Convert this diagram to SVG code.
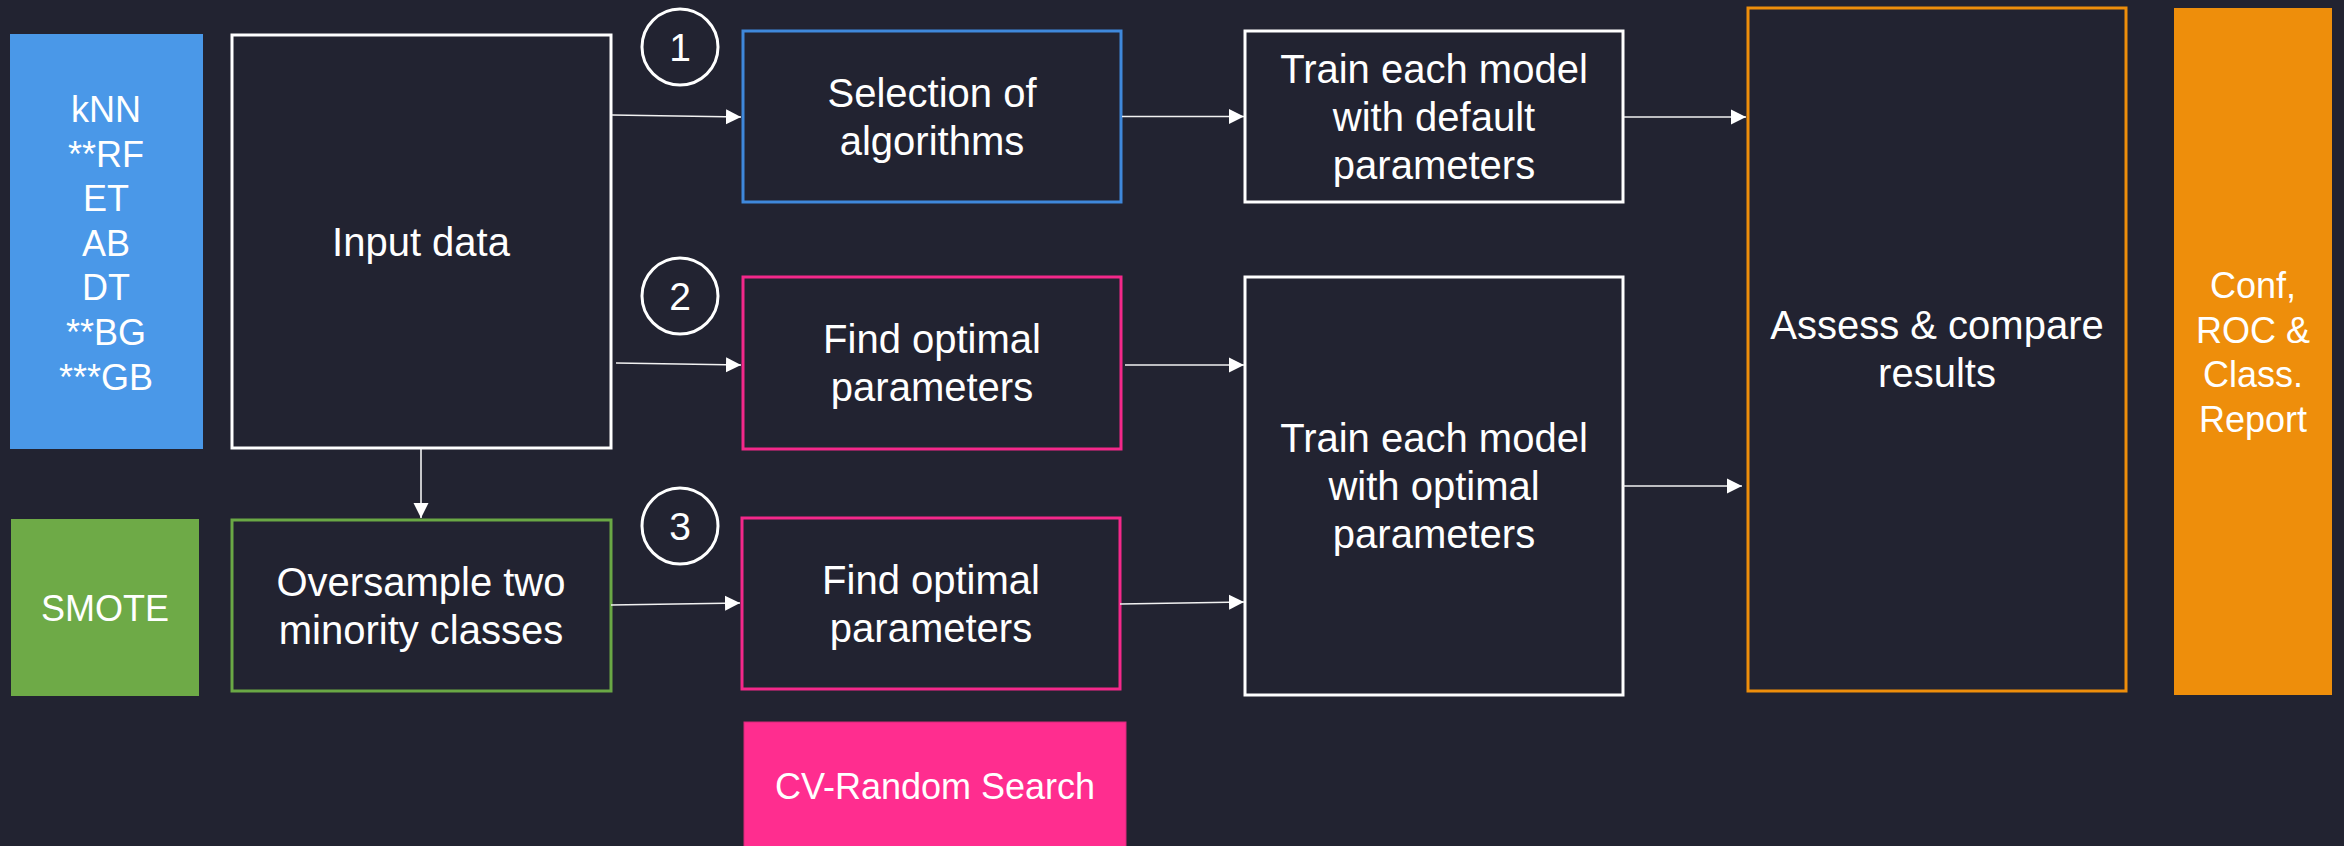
<svg xmlns="http://www.w3.org/2000/svg" width="2344" height="846" viewBox="0 0 2344 846">
<defs>
<style>
text{font-family:"Liberation Sans",Arial,sans-serif;fill:#FFFFFF;text-anchor:middle}
.t40{font-size:40px}
.t36{font-size:36px}
.num{font-size:39px}
.box{fill:#222331;stroke-width:3}
.w{stroke:#FFFFFF}
.conn line{stroke:#F2F2F2;stroke-width:1.6;marker-end:url(#ah)}
</style>
<marker id="ah" markerUnits="userSpaceOnUse" markerWidth="16" markerHeight="16" viewBox="0 0 16 16" refX="15" refY="8" orient="auto">
<path d="M0,0.5 L15,8 L0,15.5 Z" fill="#FFFFFF"/>
</marker>
</defs>
<rect x="0" y="0" width="2344" height="846" fill="#222331"/>

<g id="algos">
<rect x="10" y="34" width="193" height="415" fill="#4A98E8"/>
<text class="t36" x="106" y="122">kNN</text>
<text class="t36" x="106" y="167">**RF</text>
<text class="t36" x="106" y="211">ET</text>
<text class="t36" x="106" y="256">AB</text>
<text class="t36" x="106" y="300">DT</text>
<text class="t36" x="106" y="345">**BG</text>
<text class="t36" x="106" y="390">***GB</text>
</g>

<g id="smote">
<rect x="11" y="519" width="188" height="177" fill="#6EAA47"/>
<text class="t36" x="105" y="621">SMOTE</text>
</g>

<g id="input">
<rect class="box w" x="232" y="35" width="379" height="413"/>
<text class="t40" x="421" y="256">Input data</text>
</g>

<g id="oversample">
<rect class="box" x="232" y="520" width="379" height="171" stroke="#6AA845"/>
<text class="t40" x="421" y="596">Oversample two</text>
<text class="t40" x="421" y="644">minority classes</text>
</g>

<g id="step1">
<circle cx="680" cy="47" r="38" fill="none" stroke="#FFFFFF" stroke-width="3"/>
<text class="num" x="680" y="61">1</text>
</g>
<g id="step2">
<circle cx="680" cy="296" r="38" fill="none" stroke="#FFFFFF" stroke-width="3"/>
<text class="num" x="680" y="310">2</text>
</g>
<g id="step3">
<circle cx="680" cy="526" r="38" fill="none" stroke="#FFFFFF" stroke-width="3"/>
<text class="num" x="680" y="540">3</text>
</g>

<g id="selection">
<rect class="box" x="743" y="31" width="378" height="171" stroke="#3F88DB"/>
<text class="t40" x="932" y="107">Selection of</text>
<text class="t40" x="932" y="155">algorithms</text>
</g>

<g id="find2">
<rect class="box" x="743" y="277" width="378" height="172" stroke="#F4288A"/>
<text class="t40" x="932" y="353">Find optimal</text>
<text class="t40" x="932" y="401">parameters</text>
</g>

<g id="find3">
<rect class="box" x="742" y="518" width="378" height="171" stroke="#F4288A"/>
<text class="t40" x="931" y="594">Find optimal</text>
<text class="t40" x="931" y="642">parameters</text>
</g>

<g id="cvsearch">
<rect x="744" y="722" width="382" height="130" fill="#FF2D8F" stroke="#D8287A" stroke-width="1"/>
<text class="t36" x="935" y="799">CV-Random Search</text>
</g>

<g id="traindefault">
<rect class="box w" x="1245" y="31" width="378" height="171"/>
<text class="t40" x="1434" y="83">Train each model</text>
<text class="t40" x="1434" y="131">with default</text>
<text class="t40" x="1434" y="179">parameters</text>
</g>

<g id="trainoptimal">
<rect class="box w" x="1245" y="277" width="378" height="418"/>
<text class="t40" x="1434" y="452">Train each model</text>
<text class="t40" x="1434" y="500">with optimal</text>
<text class="t40" x="1434" y="548">parameters</text>
</g>

<g id="assess">
<rect class="box" x="1748" y="8" width="378" height="683" stroke="#EE8E0B"/>
<text class="t40" x="1937" y="339">Assess &amp; compare</text>
<text class="t40" x="1937" y="387">results</text>
</g>

<g id="report">
<rect x="2174" y="8" width="158" height="687" fill="#EE8E0B"/>
<text class="t36" x="2253" y="298">Conf,</text>
<text class="t36" x="2253" y="343">ROC &amp;</text>
<text class="t36" x="2253" y="387">Class.</text>
<text class="t36" x="2253" y="432">Report</text>
</g>

<g id="connectors" class="conn">
<line x1="612" y1="115" x2="741" y2="117"/>
<line x1="616" y1="363" x2="741" y2="365"/>
<line x1="421" y1="449" x2="421" y2="518"/>
<line x1="611" y1="605" x2="740" y2="603"/>
<line x1="1122" y1="116.5" x2="1244" y2="116.5"/>
<line x1="1125" y1="365" x2="1244" y2="365"/>
<line x1="1120" y1="604" x2="1244" y2="602"/>
<line x1="1624" y1="117" x2="1746" y2="117"/>
<line x1="1623" y1="486" x2="1742" y2="486"/>
</g>
</svg>
